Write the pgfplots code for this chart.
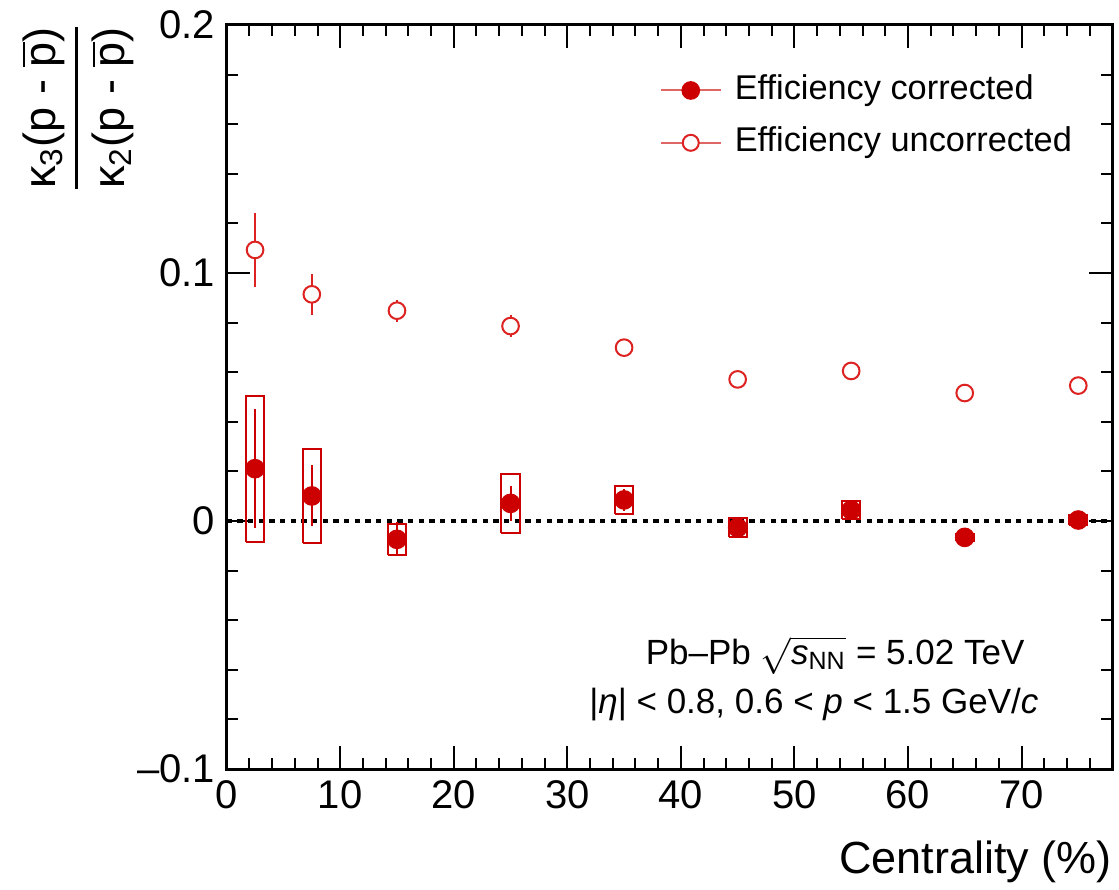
\documentclass[border=0pt]{standalone}
\usepackage{fontspec}
\setmainfont{Liberation Sans}
\usepackage{amsmath}
\usepackage{pgfplots}
\pgfplotsset{compat=1.18}
\definecolor{rootred}{HTML}{CC0000}
\definecolor{openred}{HTML}{DD2222}
\definecolor{legline}{HTML}{E06666}
\begin{document}
\begin{tikzpicture}
\begin{axis}[
  scale only axis, width=265.7pt, height=223.2pt,
  xmin=0, xmax=78, ymin=-0.1, ymax=0.2,
  xtick={0,10,20,30,40,50,60,70}, xticklabels={0,10,20,30,40,50,60,70},
  minor xtick={2,4,6,8,12,14,16,18,22,24,26,28,32,34,36,38,42,44,46,48,52,54,56,58,62,64,66,68,72,74,76},
  ytick={-0.1,0,0.1,0.2}, yticklabels={--0.1,0,0.1,0.2},
  minor ytick={-0.08,-0.06,-0.04,-0.02,0.02,0.04,0.06,0.08,0.12,0.14,0.16,0.18},
  major tick length=7pt, minor tick length=3.3pt,
  tick style={black, line width=0.6pt},
  axis line style={line width=0.9pt},
  ticklabel style={font=\fontsize{12}{14}\selectfont},
  xlabel={Centrality (\%)},
  xlabel style={at={(axis description cs:1,0)}, anchor=base east, yshift=-31.2pt, inner sep=0pt, font=\fontsize{13.5}{16}\selectfont},
  ylabel={\fontsize{13.5}{16}\selectfont\setlength{\arrayrulewidth}{0.8pt}\renewcommand{\arraystretch}{1.25}\begin{tabular}{@{}c@{}}κ\textsubscript{3}(p - $\overline{\mbox{p}}$)\\\hline κ\textsubscript{2}(p - $\overline{\mbox{p}}$)\end{tabular}},
  ylabel style={at={(axis description cs:-0.1694,0.998)}, anchor=east, inner sep=0pt},
  legend style={at={(axis description cs:0.489,0.9355)}, anchor=north west, draw=none, fill=none, inner sep=0pt, outer sep=0pt, font=\fontsize{10.3}{12}\selectfont, row sep=5.2pt, nodes={inner sep=0pt, text height=8pt, text depth=2.5pt}, /tikz/every odd column/.style={column sep=3.9pt}},
  legend cell align=left,
]
\addplot[forget plot, black, line width=1.25pt, dash pattern=on 1.6pt off 1.6pt] coordinates {(0,0) (78,0)};
\addplot[forget plot, rootred, line width=0.6pt, unbounded coords=jump, mark=none] coordinates {
(1.7,-0.0083) (3.3,-0.0083) (3.3,0.0505) (1.7,0.0505) (1.7,-0.0083) (2.5,nan)
(6.7,-0.0089) (8.3,-0.0089) (8.3,0.0291) (6.7,0.0291) (6.7,-0.0089) (7.5,nan)
(14.2,-0.0137) (15.8,-0.0137) (15.8,-0.0011) (14.2,-0.0011) (14.2,-0.0137) (15,nan)
(24.2,-0.0047) (25.8,-0.0047) (25.8,0.0189) (24.2,0.0189) (24.2,-0.0047) (25,nan)
(34.2,0.0029) (35.8,0.0029) (35.8,0.0141) (34.2,0.0141) (34.2,0.0029) (35,nan)
(44.2,-0.0065) (45.8,-0.0065) (45.8,0.0011) (44.2,0.0011) (44.2,-0.0065) (45,nan)
(54.2,0.0008) (55.8,0.0008) (55.8,0.0080) (54.2,0.0080) (54.2,0.0008) (55,nan)
(64.2,-0.0081) (65.8,-0.0081) (65.8,-0.0051) (64.2,-0.0051) (64.2,-0.0081) (65,nan)
(74.2,-0.0016) (75.8,-0.0016) (75.8,0.0024) (74.2,0.0024) (74.2,-0.0016)
};
\addplot[rootred, only marks, mark=*, mark size=2.75pt, mark options={fill=rootred, draw=rootred},
  legend image code/.code={\draw[legline, line width=0.6pt] (0pt,0pt) -- (18pt,0pt); \fill[rootred] (9pt,0pt) circle (2.6pt);},
  error bars/.cd, y dir=both, y explicit, error mark=none, error bar style={line width=0.6pt, rootred}]
coordinates {
(2.5,0.0211) +- (0,0.024)
(7.5,0.0101) +- (0,0.0123)
(15,-0.0074) +- (0,0.0068)
(25,0.0071) +- (0,0.007)
(35,0.0085) +- (0,0.0045)
(45,-0.0027) +- (0,0.004)
(55,0.0044) +- (0,0.003)
(65,-0.0066) +- (0,0.002)
(75,0.0004) +- (0,0.002)
};
\addlegendentry{Efficiency corrected}
\addplot[openred, only marks, mark=*, mark size=2.5pt, mark options={fill=white, draw=openred, line width=0.6pt},
  legend image code/.code={\draw[legline, line width=0.6pt] (0pt,0pt) -- (18pt,0pt); \draw[openred, line width=0.6pt, fill=white] (9pt,0pt) circle (2.4pt);},
  error bars/.cd, y dir=both, y explicit, error mark=none, error bar style={line width=0.6pt, openred}]
coordinates {
(2.5,0.1093) +- (0,0.015)
(7.5,0.0914) +- (0,0.0082)
(15,0.0848) +- (0,0.0045)
(25,0.0786) +- (0,0.0044)
(35,0.0699) +- (0,0.002)
(45,0.0571) +- (0,0.002)
(55,0.0605) +- (0,0.002)
(65,0.0516) +- (0,0.002)
(75,0.0546) +- (0,0.002)
};
\addlegendentry{Efficiency uncorrected}
\node[font=\fontsize{10.5}{12}\selectfont, anchor=center] at (axis description cs:0.687,0.153) {Pb--Pb $\sqrt{\mbox{\itshape s}_{\mbox{\fontsize{7.5}{9}\selectfont NN}}}$ = 5.02 TeV};
\node[font=\fontsize{10.5}{12}\selectfont, anchor=center] at (axis description cs:0.663,0.086) {|\textit{η}| < 0.8, 0.6 < \textit{p} < 1.5 GeV/\textit{c}};
\end{axis}
\pgfresetboundingbox
\path[use as bounding box] ([shift={(-68pt,-36pt)}]current axis.south west) rectangle ([shift={(2pt,7.5pt)}]current axis.north east);
\end{tikzpicture}
\end{document}
